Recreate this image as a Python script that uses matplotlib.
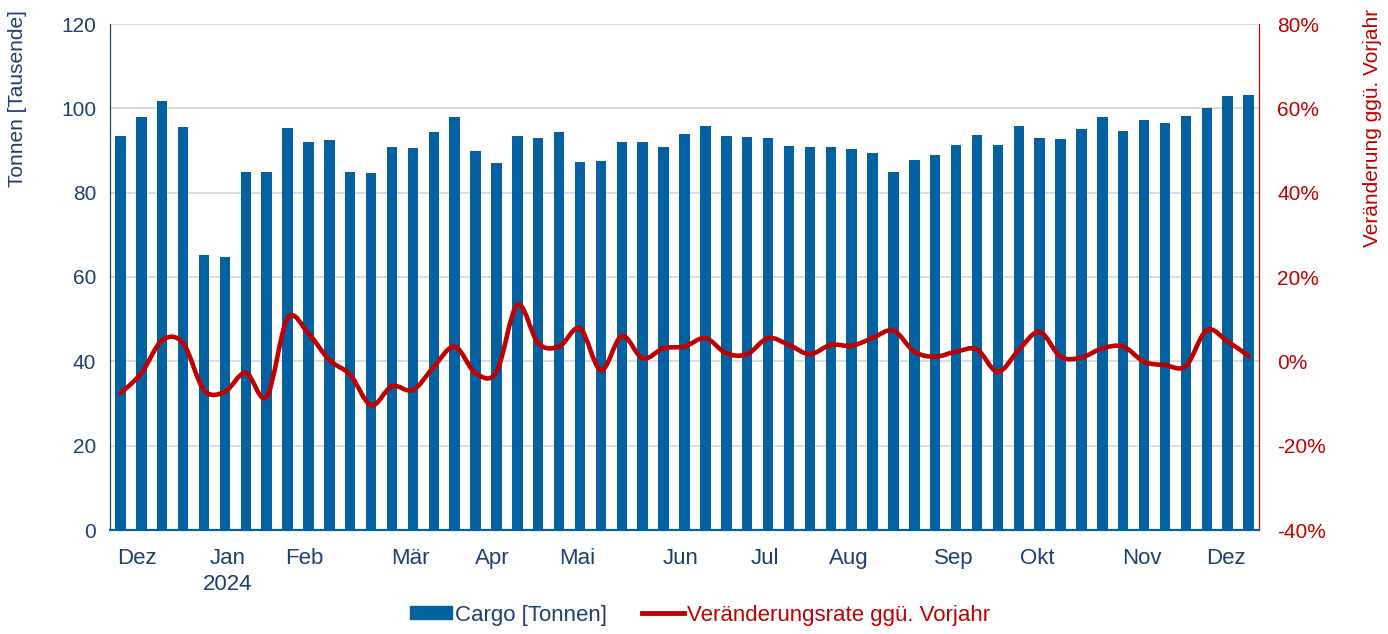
import numpy as np
import matplotlib
matplotlib.use('Agg')
import matplotlib.pyplot as plt
from matplotlib.path import Path
from matplotlib.patches import PathPatch, Patch
from matplotlib.lines import Line2D

plt.rcParams['font.family'] = ['Liberation Sans', 'DejaVu Sans']

# weekly cargo (thousand tonnes), Dec 2023 - Dec 2024
cargo = [93.4, 97.9, 101.7, 95.5, 65.2, 64.7, 84.9, 84.9, 95.3, 92.0,
         92.5, 84.9, 84.7, 90.8, 90.6, 94.4, 97.9, 89.9, 87.0, 93.4,
         93.0, 94.4, 87.3, 87.5, 92.0, 92.0, 90.8, 93.9, 95.8, 93.4,
         93.2, 93.0, 91.1, 90.8, 90.8, 90.3, 89.4, 84.9, 87.7, 88.9,
         91.3, 93.7, 91.3, 95.8, 93.0, 92.7, 95.1, 97.9, 94.6, 97.2,
         96.5, 98.2, 100.1, 102.9, 103.2]
# change vs. previous year (%)
change = [-7.6, -2.8, 5.0, 4.3, -6.8, -7.2, -2.7, -8.4, 10.2, 6.6,
          0.3, -3.2, -10.4, -5.9, -6.8, -1.3, 3.5, -2.8, -2.5, 13.4,
          4.3, 3.5, 7.8, -2.1, 6.0, 0.7, 3.1, 3.5, 5.5, 1.9,
          1.7, 5.5, 3.9, 1.7, 3.9, 3.7, 5.5, 7.3, 2.3, 1.1,
          2.3, 2.8, -2.5, 2.7, 7.0, 1.1, 0.9, 3.1, 3.5, -0.1,
          -0.9, -1.1, 7.4, 4.7, 1.3]
month_pos = [0.8, 5.15, 8.8, 13.9, 17.8, 21.85, 26.8, 30.85, 34.87, 39.9, 43.9, 48.9, 52.9]
month_labels = ['Dez', 'Jan\n2024', 'Feb', 'Mär', 'Apr', 'Mai', 'Jun', 'Jul', 'Aug',
                'Sep', 'Okt', 'Nov', 'Dez']

BLUE = '#0461a1'
DARK = '#1f3e72'
RED = '#c00000'

fig = plt.figure(figsize=(13.88, 6.34), dpi=100)
ax = fig.add_axes([110 / 1388, 104 / 634, 1149 / 1388, 506 / 634])
ax2 = ax.twinx()

x = np.arange(len(cargo))
ax.bar(x, cargo, width=0.5, color=BLUE, zorder=2)
ax.set_xlim(-0.5, len(cargo) - 0.5)
ax.set_ylim(0, 120)
ax.set_yticks(range(0, 121, 20))
ax.grid(axis='y', color='#d9d9d9', linewidth=1.3, zorder=0)
ax.set_axisbelow(True)
ax.tick_params(axis='y', length=0, labelsize=15, labelcolor=DARK, pad=10)
ax.set_xticks(month_pos)
ax.set_xticklabels(month_labels, fontsize=16, color=DARK, linespacing=1.3)
ax.tick_params(axis='x', length=0, pad=13)

# smooth line (Catmull-Rom as cubic Bezier)
pts = np.column_stack([x, change]).astype(float)
ext = np.vstack([pts[0], pts, pts[-1]])
verts = [pts[0]]
codes = [Path.MOVETO]
for i in range(len(pts) - 1):
    p0, p1, p2, p3 = ext[i], ext[i + 1], ext[i + 2], ext[i + 3]
    verts += [p1 + (p2 - p0) / 6, p2 - (p3 - p1) / 6, p2]
    codes += [Path.CURVE4] * 3
ax2.add_patch(PathPatch(Path(verts, codes), facecolor='none', edgecolor=RED,
                        linewidth=3.3, capstyle='round', joinstyle='round', zorder=3))
ax2.set_ylim(-40, 80)
ax2.set_yticks(range(-40, 81, 20))
ax2.set_yticklabels([f'{v}%' for v in range(-40, 81, 20)])
ax2.tick_params(axis='y', length=0, labelsize=15, labelcolor=RED, pad=13)

fig.text(18 / 1388, 1 - 99 / 634, 'Tonnen [Tausende]', rotation=90, fontsize=15,
         color=DARK, ha='center', va='center')
fig.text(1372 / 1388, 1 - 128 / 634, 'Veränderung ggü. Vorjahr', rotation=90, fontsize=15,
         color=RED, ha='center', va='center')

for a in (ax, ax2):
    a.spines['top'].set_visible(False)
    a.spines['left'].set_color(DARK)
    a.spines['right'].set_color(RED)
    a.spines['bottom'].set_color(BLUE)
    a.spines['bottom'].set_linewidth(1.5)

handles = [Patch(color=BLUE), Line2D([0], [0], color=RED, linewidth=3.5)]
fig.legend(handles, ['Cargo [Tonnen]', 'Veränderungsrate ggü. Vorjahr'],
           loc='center', bbox_to_anchor=(700 / 1388, 19 / 634), ncol=2,
           frameon=False, fontsize=16, labelcolor=[DARK, RED],
           handlelength=1.9, handleheight=0.55, handletextpad=0.1, columnspacing=1.6,
           bbox_transform=fig.transFigure)

fig.savefig('out.png', dpi=100)
